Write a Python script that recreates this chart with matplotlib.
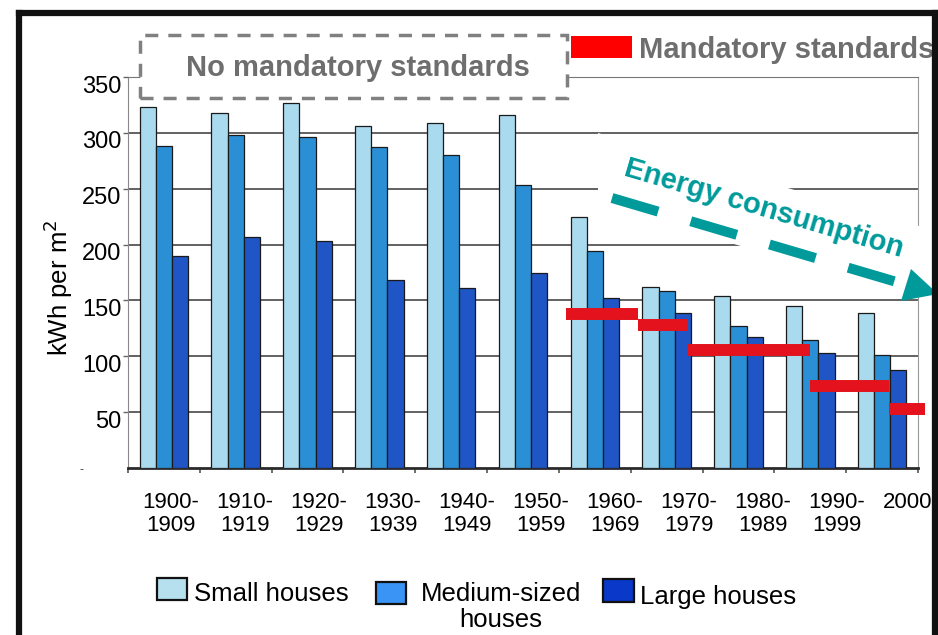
import numpy as np
import matplotlib
matplotlib.use("Agg")
import matplotlib.pyplot as plt
from matplotlib.patches import Rectangle, Polygon
from matplotlib.lines import Line2D
from matplotlib.transforms import ScaledTranslation

plt.rcParams['font.family'] = ['Liberation Sans', 'DejaVu Sans']
plt.rcParams['lines.scale_dashes'] = False

# energy use per decade of construction, kWh per m2
periods = ['1900-\n1909', '1910-\n1919', '1920-\n1929', '1930-\n1939', '1940-\n1949',
           '1950-\n1959', '1960-\n1969', '1970-\n1979', '1980-\n1989', '1990-\n1999', '2000-']
small = [323, 318, 327, 306, 309, 316, 225, 162, 154, 145, 139]
medium = [288, 298, 296, 287, 280, 253, 194, 158, 127, 115, 101]
large = [190, 207, 203, 168, 161, 175, 152, 139, 117, 103, 88]

# building code requirements: (from year, to year, kWh per m2)
std_start = [1961, 1971, 1978, 1995, 2006]
std_end = [1971, 1978, 1995, 2006, 2011]
std_value = [138, 128, 106, 73, 53]

series_names = ['Small houses', 'Medium-sized\nhouses', 'Large houses']
bar_colors = ['#a9daee', '#2b8fd6', '#1f55c4']
key_colors = ['#b7e0ef', '#3a94f5', '#0a38c9']
yticks = [50, 100, 150, 200, 250, 300, 350]

W, H = 938, 635


def fpx(x, y):
    # pixel position on the canvas -> figure fraction
    return (x / W, 1 - y / H)


def year_to_x(year):
    return (year - 1905) / 10


fig = plt.figure(figsize=(W / 100, H / 100), dpi=100)
ax = fig.add_axes([128 / W, 1 - 468 / H, 790 / W, 391 / H])

x = np.arange(len(periods))
bw = 0.225
for k, (vals, col) in enumerate(zip([small, medium, large], bar_colors)):
    ax.bar(x + (k - 1) * bw, vals, width=bw, color=col, edgecolor='#1a1a1a',
           linewidth=0.9, zorder=3)

ax.hlines(std_value, [year_to_x(v) for v in std_start], [year_to_x(v) for v in std_end],
          colors='#e3121c', linewidth=8.6, zorder=4, clip_on=False)

ax.set_xlim(-0.5, len(periods) - 0.5)
ax.set_ylim(0, 350)
ax.set_yticks(yticks)
ax.set_yticklabels([str(v) for v in yticks], fontsize=17)
ax.tick_params(axis='y', length=3.6, width=1, color='#666', pad=1)
for lab in ax.get_yticklabels():
    lab.set_transform(lab.get_transform() + ScaledTranslation(0, -0.07, fig.dpi_scale_trans))

# labels drift a little to the right of their groups
ax.set_xticks(x * 1.03 + 0.1)
ax.set_xticklabels(periods, fontsize=16, linespacing=1.15)
ax.tick_params(axis='x', length=0, pad=17)
ax.set_xticks(np.arange(-0.5, len(periods)), minor=True)
ax.tick_params(axis='x', which='minor', length=3.6, width=1.2, color='#555', direction='out')

ax.yaxis.grid(True, color='#555555', linewidth=1.3, zorder=0)
ax.set_axisbelow(True)
ax.spines['left'].set_color('#888')
ax.spines['top'].set_color('#777')
ax.spines['right'].set_color('#999')
ax.spines['bottom'].set_color('#2a2a2a')
ax.spines['bottom'].set_linewidth(2)

fig.text(*fpx(58, 288), 'kWh per m$^2$', rotation=90, fontsize=18.5,
         ha='center', va='center')
fig.text(*fpx(82, 470), '-', fontsize=9, ha='center', va='center', color='#444')

# period without requirements
fig.patches.append(Rectangle(fpx(140, 98), 427 / W, 63 / H, transform=fig.transFigure,
                             facecolor='white', edgecolor='#808080', linewidth=2.5,
                             linestyle=(0, (9.4, 7.2)), zorder=2))
fig.text(*fpx(358, 68), 'No mandatory standards', fontsize=21, fontweight='bold',
         color='#6e6e6e', ha='center', va='center', zorder=3)

# key for the red marks
fig.patches.append(Rectangle(fpx(571, 58), 61 / W, 22 / H, transform=fig.transFigure,
                             facecolor='#ff0000', edgecolor='none', zorder=2))
fig.text(*fpx(639, 50), 'Mandatory standards', fontsize=21, fontweight='bold',
         color='#6e6e6e', ha='left', va='center', zorder=3)

# trend arrow
fig.patches.append(Polygon([fpx(598, 133), fpx(936, 231), fpx(936, 302), fpx(598, 205)],
                           closed=True, transform=fig.transFigure, facecolor='white',
                           edgecolor='none', zorder=2))
teal = '#009a9a'
x0, y0 = fpx(612, 198)
x1, y1 = fpx(900, 283)
fig.lines.append(Line2D([x0, x1], [y0, y1], transform=fig.transFigure, color=teal,
                        linewidth=7.2, linestyle=(0, (34.6, 24.5)),
                        solid_capstyle='butt', dash_capstyle='butt', zorder=3))
fig.patches.append(Polygon([fpx(938, 294), fpx(911, 269), fpx(901, 301)], closed=True,
                           transform=fig.transFigure, facecolor=teal, edgecolor='none',
                           zorder=3))
fig.text(*fpx(764, 208), 'Energy consumption', fontsize=21, fontweight='bold',
         color=teal, rotation=-16.4, rotation_mode='anchor', ha='center', va='center',
         zorder=4)

# key for the house sizes
key_boxes = [(157, 578, 30, 22), (376, 582, 30, 22), (603, 579, 31, 23)]
key_text = [(194, 594, 'left'), (501, 607, 'center'), (640, 597, 'left')]
for (bx, by, bwid, bh), col in zip(key_boxes, key_colors):
    fig.patches.append(Rectangle(fpx(bx, by + bh), bwid / W, bh / H,
                                 transform=fig.transFigure, facecolor=col,
                                 edgecolor='#111', linewidth=1.6, zorder=2))
for (tx, ty, ha), name in zip(key_text, series_names):
    fig.text(*fpx(tx, ty), name, fontsize=18.5, ha=ha, va='center',
             multialignment='center', linespacing=1.15)

# slide frame
for xs, ys in [((19, 19), (13, 640)), ((19, 935), (13, 13)), ((935, 935), (13, 640))]:
    fig.lines.append(Line2D([v / W for v in xs], [1 - v / H for v in ys],
                            transform=fig.transFigure, color='#111', linewidth=4.5,
                            solid_capstyle='projecting', zorder=5))

fig.savefig('out.png', dpi=100)
